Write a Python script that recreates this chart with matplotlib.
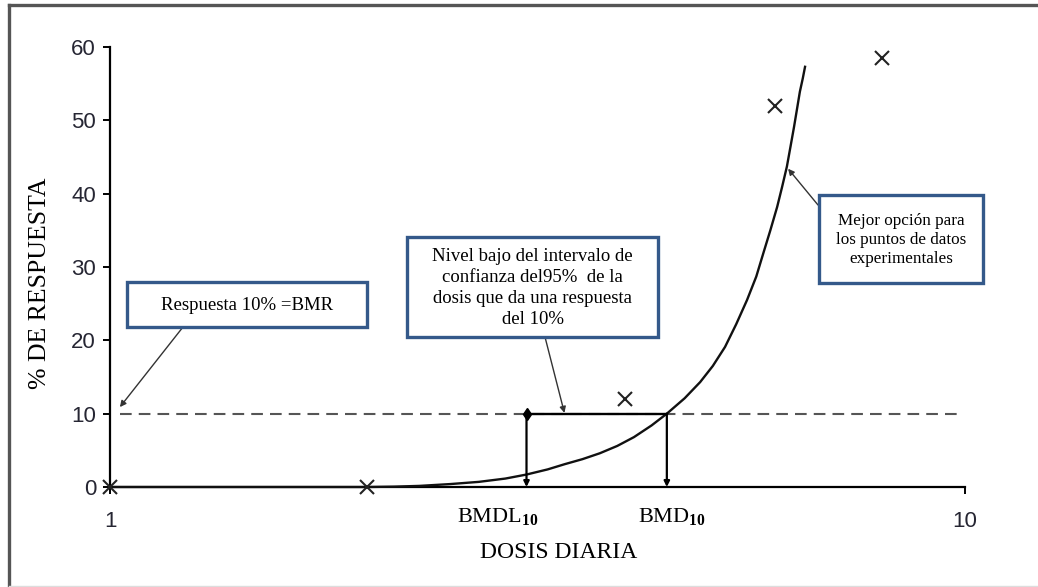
import matplotlib
matplotlib.use('Agg')
import matplotlib.pyplot as plt
from matplotlib.patches import Rectangle
from matplotlib.lines import Line2D

W, H = 1038, 587

# puntos experimentales
dose_obs = [1, 2, 4, 6, 8]
resp_obs = [0, 0, 12, 52, 58.5]

# curva ajustada
curve_dose = [1.0, 1.5, 2.0, 2.15, 2.3, 2.5, 2.7, 2.9, 3.07, 3.25, 3.4, 3.57,
              3.74, 3.92, 4.1, 4.3, 4.48, 4.7, 4.9, 5.07, 5.24, 5.4, 5.56,
              5.7, 5.81, 5.92, 6.03, 6.11, 6.19, 6.25, 6.31, 6.36, 6.41, 6.46, 6.50]
curve_resp = [0, 0, 0, 0.05, 0.15, 0.4, 0.7, 1.15, 1.7, 2.4, 3.1, 3.8,
              4.6, 5.6, 6.8, 8.4, 10, 12.1, 14.3, 16.5, 19.1, 22.2, 25.5,
              28.7, 31.9, 35.0, 38.2, 40.9, 43.7, 46.4, 49.1, 51.5, 53.9, 55.7, 57.3]

bmr = 10
bmdl = 3.07
bmd = 4.48

y_ticks = [0, 10, 20, 30, 40, 50, 60]
x_ticks = [1, 10]
x_tick_labels = ['1', '10']

txt_bmr = 'Respuesta 10% =BMR'
txt_bmdl = 'Nivel bajo del intervalo de\nconfianza del95%  de la\ndosis que da una respuesta\ndel 10%'
txt_fit = 'Mejor opción para\nlos puntos de datos\nexperimentales'

plt.rcParams['mathtext.fontset'] = 'custom'
plt.rcParams['mathtext.rm'] = 'Liberation Serif'
plt.rcParams['mathtext.bf'] = 'Liberation Serif:bold'

serif = 'Liberation Serif'
sans = 'Liberation Sans'
box_col = '#34598a'


def fp(x, y):
    # pixel de la imagen -> coordenadas de figura
    return (x / W, 1 - y / H)


fig = plt.figure(figsize=(W / 100, H / 100), dpi=100)
ax = fig.add_axes([110 / W, 1 - 487 / H, (965 - 110) / W, (487 - 47) / H])

ax.set_xscale('log')
ax.set_xlim(1, 10)
ax.set_ylim(0, 60)
ax.set_xticks(x_ticks)
ax.set_xticklabels(x_tick_labels)
ax.xaxis.set_minor_locator(matplotlib.ticker.NullLocator())
ax.set_yticks(y_ticks)
for s in ['top', 'right']:
    ax.spines[s].set_visible(False)
for s in ['left', 'bottom']:
    ax.spines[s].set_linewidth(1.6)
ax.tick_params(axis='y', direction='out', length=5, width=1.4, pad=5,
               labelsize=16, labelcolor='#262633')
ax.tick_params(axis='x', direction='out', length=5, width=1.4, pad=12,
               labelsize=16, labelcolor='#262633')
for lab in ax.get_xticklabels() + ax.get_yticklabels():
    lab.set_family(sans)

# linea BMR discontinua
ax.plot([1.027, 9.87], [bmr, bmr], color='#555555', lw=1.5,
        dashes=(5.6, 3.4), zorder=2)

# curva y puntos
ax.plot(curve_dose, curve_resp, color='#111111', lw=1.7, clip_on=False, zorder=3)
ax.plot(dose_obs, resp_obs, ls='none', marker='x', ms=10, mew=1.5,
        color='#222222', clip_on=False, zorder=4)

# rectangulo BMDL - BMD
ax.plot([bmdl, bmd], [bmr, bmr], color='black', lw=1.7, zorder=3)
for xv in [bmdl, bmd]:
    ax.annotate('', xy=(xv, 0), xytext=(xv, bmr),
                arrowprops=dict(arrowstyle='-|>', color='black', lw=1.6,
                                mutation_scale=8, shrinkA=0, shrinkB=0))
ax.plot([bmdl], [bmr], marker='d', ms=6, color='black', zorder=4)

# etiquetas
fig.text(*fp(40, 283), '% DE RESPUESTA', rotation=90, ha='center', va='center',
         family=serif, fontsize=18.5)
fig.text(*fp(559, 552), 'DOSIS DIARIA', ha='center', va='center',
         family=serif, fontsize=17)
fig.text(*fp(498, 517), r'$\mathrm{BMDL}_{\mathbf{10}}$', ha='center', va='center',
         fontsize=16)
fig.text(*fp(672, 517), r'$\mathrm{BMD}_{\mathbf{10}}$', ha='center', va='center',
         fontsize=16)

# cajas de texto
boxes = [
    ((127, 282, 367, 327), txt_bmr, 13.5, 1.2),
    ((407, 237, 658, 337), txt_bmdl, 13.5, 1.32),
    ((819, 195, 983, 283), txt_fit, 12.3, 1.27),
]
for (x0, y0, x1, y1), t, fs, ls in boxes:
    fig.add_artist(Rectangle(fp(x0, y1), (x1 - x0) / W, (y1 - y0) / H,
                             transform=fig.transFigure, facecolor='white',
                             edgecolor=box_col, lw=2.4, zorder=5))
    fig.text(*fp((x0 + x1) / 2, (y0 + y1) / 2 + 1), t, ha='center', va='center',
             family=serif, fontsize=fs, linespacing=ls, zorder=6)

# flechas de las cajas
arrow_kw = dict(arrowstyle='-|>', color='#333333', lw=1.0, mutation_scale=9,
                shrinkA=0, shrinkB=0)
ax.annotate('', xy=(1.027, 10.9), xytext=(183, H - 327),
            textcoords='figure pixels', arrowprops=arrow_kw)
ax.annotate('', xy=(3.40, 10.1), xytext=(545, H - 337),
            textcoords='figure pixels', arrowprops=arrow_kw)
ax.annotate('', xy=(6.21, 43.4), xytext=(818, H - 205),
            textcoords='figure pixels', arrowprops=arrow_kw)

# marco exterior
fig.add_artist(Line2D([9 / W, 9 / W], [0, 1 - 5 / H], transform=fig.transFigure,
                      color='#555555', lw=2.4))
fig.add_artist(Line2D([9 / W, 1], [1 - 5 / H, 1 - 5 / H], transform=fig.transFigure,
                      color='#555555', lw=2.4))
fig.add_artist(Line2D([9 / W, 1], [1 - 586 / H, 1 - 586 / H], transform=fig.transFigure,
                      color='#dddddd', lw=1))

fig.savefig('out.png', dpi=100)
